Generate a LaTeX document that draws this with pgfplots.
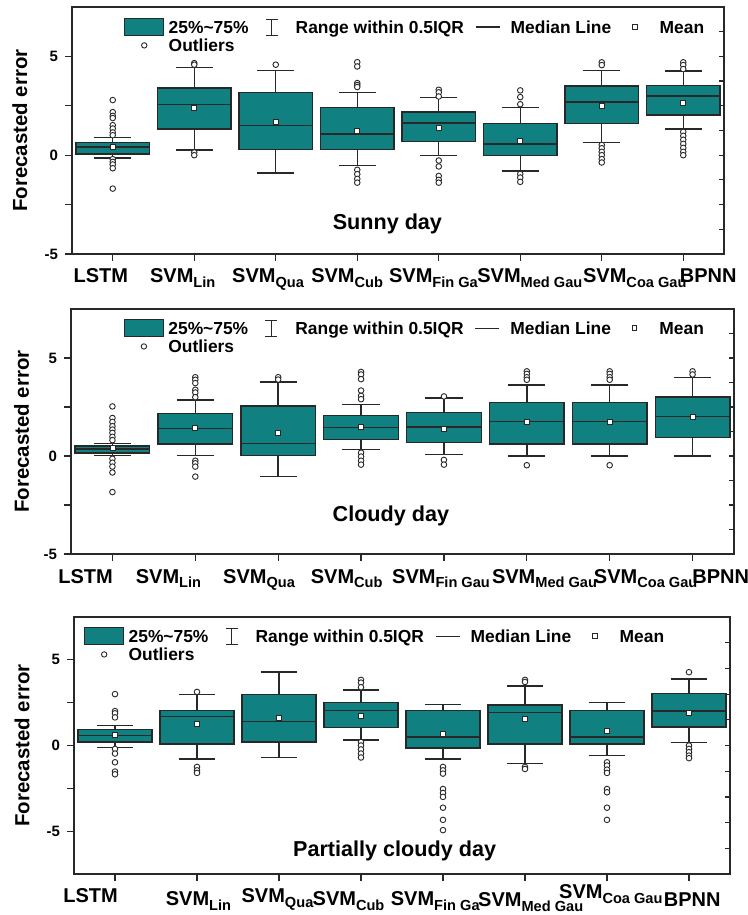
\documentclass[border=0pt]{standalone}
\usepackage{fontspec}
\setmainfont{Liberation Sans}
\usepackage{pgfplots}
\pgfplotsset{compat=1.18}
\usepgfplotslibrary{statistics}

\definecolor{boxfill}{RGB}{16,128,128}
\definecolor{edge}{RGB}{40,40,40}

% subscript for the tick labels
\newcommand\sub[1]{\raisebox{-0.22em}{\fontsize{7.3bp}{8bp}\selectfont #1}}
% tick label: x position, ymin, drop below axis, text
\newcommand\xl[4]{\node[anchor=base, yshift=-#3bp, font=\bfseries\fontsize{10bp}{12bp}\selectfont] at (axis cs:#1,#2) {#4};}
% one box: position, lower whisker, lower quartile, median, upper quartile, upper whisker, mean, outliers
\newcommand\bp[8]{\addplot[bx, boxplot prepared={draw position=#1, lower whisker=#2, lower quartile=#3, median=#4, upper quartile=#5, upper whisker=#6, average=#7}] table[row sep=\\, y index=0] {y\\ #8};}

\newcommand\legendstuff{%
  \addlegendimage{legend image code/.code={
    \path[draw=none, fill=none] (0bp,-4.5bp) rectangle (22bp,4.5bp);
    \draw[fill=boxfill, draw=edge, line width=0.7bp] (0bp,-4.25bp) rectangle (19.5bp,4.25bp);}}
  \addlegendentry{\makebox[43bp][l]{25\%\textasciitilde75\%}}
  \addlegendimage{legend image code/.code={
    \path[draw=none, fill=none] (0bp,-4.5bp) rectangle (20.5bp,4.5bp);
    \draw[draw=edge, line width=0.6bp] (8.5bp,-4bp) -- (8.5bp,4bp) (5.5bp,-4bp) -- (11.5bp,-4bp) (5.5bp,4bp) -- (11.5bp,4bp);}}
  \addlegendentry{\makebox[85bp][l]{Range within 0.5IQR}}
  \addlegendimage{legend image code/.code={
    \path[draw=none, fill=none] (0bp,-4.5bp) rectangle (22.5bp,4.5bp);
    \draw[draw=edge, line width=0.7bp] (5bp,0bp) -- (17bp,0bp);}}
  \addlegendentry{\makebox[55bp][l]{Median Line}}
  \addlegendimage{legend image code/.code={
    \path[draw=none, fill=none] (0bp,-4.5bp) rectangle (19.5bp,4.5bp);
    \draw[fill=white, draw=edge, line width=0.45bp] (5.8bp,-1.2bp) rectangle (8.2bp,1.2bp);}}
  \addlegendentry{\makebox[22bp][l]{Mean}}
  \addlegendimage{legend image code/.code={
    \path[draw=none, fill=none] (0bp,-4.5bp) rectangle (22bp,4.5bp);
    \draw[fill=white, draw=edge, line width=0.45bp] (9.75bp,0bp) circle (1.35bp);}}
  \addlegendentry{\makebox[43bp][l]{Outliers}}
}

\pgfplotsset{
  panel/.style={
    scale only axis, anchor=north west,
    xmin=0.5, xmax=8.5,
    xtick={1,...,8}, xticklabels={},
    ytick={-5,0,5}, yticklabels={-5,0,5}, minor ytick={-2.5,2.5},
    tick pos=left, tick align=outside,
    major tick length=3.5bp, minor tick length=3.5bp,
    tick style={draw=edge, line width=0.6bp},
    axis line style={draw=edge, line width=0.7bp},
    yticklabel style={font=\bfseries\fontsize{7.5bp}{9bp}\selectfont},
    ylabel={Forecasted error},
    ylabel style={font=\bfseries\fontsize{10.2bp}{12bp}\selectfont, anchor=center},
    clip=false,
    legend columns=4, legend cell align=left,
    legend style={draw=none, fill=none, anchor=north west, inner sep=0pt, outer sep=0pt,
      font=\bfseries\fontsize{8.7bp}{9bp}\selectfont,
      nodes={inner sep=0pt, text height=6.2bp, text depth=0pt}},
    boxplot/draw direction=y,
    boxplot/box extend=0.9, boxplot/whisker extend=0.45,
    boxplot/every box/.style={fill=boxfill, draw=edge, line width=0.7bp},
    boxplot/every whisker/.style={draw=edge, line width=0.7bp},
    boxplot/every median/.style={draw=edge, line width=0.8bp},
    boxplot/every average/.style={/tikz/mark=square*, /tikz/mark size=1.25bp,
      /tikz/line width=0.45bp, /tikz/solid,
      /utils/exec={\pgfsetfillcolor{white}\pgfsetstrokecolor{edge}}},
  },
  bx/.style={mark=*, mark size=1.4bp, mark options={fill=white, draw=edge, line width=0.45bp}},
  rt/.style={scale only axis, anchor=north west, xmin=0.5, xmax=8.5,
    xtick=\empty, ytick pos=right, tick align=inside,
    axis line style={draw=none},
    yticklabels={}, major tick length=2.5bp,
    tick style={draw=edge, line width=0.6bp}},
}

\begin{document}
\begin{tikzpicture}
\useasboundingbox (0bp,0bp) rectangle (374bp,-457.5bp);

% ---------------- Sunny day ----------------
\begin{axis}[panel, at={(36bp,-3.5bp)}, width=326bp, height=123.5bp,
  ymin=-5, ymax=7.5,
  ylabel style={at={(axis description cs:-0.08,0.5)}},
  legend style={at={(0.0798,0.9555)}}]
\legendstuff
\bp{1}{-0.15}{0.07}{0.42}{0.64}{0.90}{0.42}{2.79\\ 2.18\\ 1.99\\ 1.88\\ 1.52\\ 1.35\\ 1.15\\ 1.01\\ -0.20\\ -0.34\\ -0.47\\ -0.66\\ -1.69\\}
\bp{2}{0.27}{1.32}{2.57}{3.41}{4.43}{2.40}{4.66\\ 4.58\\ 0.14\\ 0.00\\}
\bp{3}{-0.90}{0.30}{1.50}{3.16}{4.29}{1.67}{4.58\\}
\bp{4}{-0.51}{0.30}{1.08}{2.40}{3.18}{1.23}{4.71\\ 4.49\\ 3.65\\ 3.55\\ 3.45\\ -0.74\\ -0.96\\ -1.20\\ -1.39\\}
\bp{5}{-0.02}{0.68}{1.64}{2.18}{2.91}{1.40}{3.31\\ 3.18\\ 2.97\\ -0.27\\ -0.57\\ -1.05\\ -1.25\\ -1.39\\}
\bp{6}{-0.79}{-0.02}{0.56}{1.60}{2.40}{0.71}{3.28\\ 2.94\\ 2.58\\ -0.95\\ -1.13\\ -1.35\\}
\bp{7}{0.64}{1.59}{2.69}{3.50}{4.29}{2.50}{4.70\\ 4.56\\ 0.52\\ 0.35\\ 0.17\\ 0.00\\ -0.20\\ -0.37\\}
\bp{8}{1.32}{2.03}{3.00}{3.53}{4.27}{2.67}{4.70\\ 4.56\\ 4.36\\ 1.18\\ 0.98\\ 0.78\\ 0.57\\ 0.37\\ 0.17\\ 0.00\\}
\node[font=\bfseries\fontsize{10.8bp}{13bp}\selectfont] at (axis cs:4.37,-3.48) {Sunny day};
\xl{0.853}{-5}{14.5}{LSTM}
\xl{1.859}{-5}{14.5}{SVM\sub{Lin}}
\xl{2.906}{-5}{14.5}{SVM\sub{Qua}}
\xl{3.876}{-5}{14.5}{SVM\sub{Cub}}
\xl{4.935}{-5}{14.5}{SVM\sub{Fin Ga}}
\xl{6.118}{-5}{14.5}{SVM\sub{Med Gau}}
\xl{7.406}{-5}{14.5}{SVM\sub{Coa Gau}}
\xl{8.306}{-5}{14.5}{BPNN}
\end{axis}
\begin{axis}[rt, at={(36bp,-3.5bp)}, width=326bp, height=123.5bp,
  ymin=-5, ymax=7.5, ytick={-3.75,-2.5,...,6.25}]
\end{axis}

% ---------------- Cloudy day ----------------
\begin{axis}[panel, at={(35.5bp,-154.5bp)}, width=331.5bp, height=122.5bp,
  ymin=-5, ymax=7.5,
  ylabel style={at={(axis description cs:-0.0745,0.5)}},
  legend style={at={(0.0795,0.959)}}]
\legendstuff
\bp{1}{0.03}{0.15}{0.35}{0.52}{0.64}{0.41}{2.53\\ 1.94\\ 1.74\\ 1.52\\ 1.35\\ 1.18\\ 0.98\\ 0.81\\ -0.14\\ -0.34\\ -0.54\\ -0.84\\ -1.84\\}
\bp{2}{0.02}{0.61}{1.40}{2.16}{2.85}{1.45}{4.02\\ 3.89\\ 3.72\\ 3.38\\ 3.24\\ 3.00\\ -0.24\\ -0.37\\ -0.54\\ -1.05\\}
\bp{3}{-1.05}{0.02}{0.63}{2.55}{3.77}{1.20}{4.02\\ 3.90\\}
\bp{4}{0.34}{0.84}{1.45}{2.06}{2.64}{1.49}{4.29\\ 4.16\\ 3.92\\ 3.34\\ 3.07\\ 2.90\\ 0.17\\ -0.03\\ -0.24\\ -0.44\\}
\bp{5}{0.07}{0.68}{1.47}{2.21}{2.96}{1.40}{3.04\\ -0.20\\ -0.44\\}
\bp{6}{0.00}{0.61}{1.76}{2.72}{3.63}{1.76}{4.32\\ 4.19\\ 4.02\\ 3.89\\ -0.47\\}
\bp{7}{0.00}{0.61}{1.76}{2.72}{3.63}{1.76}{4.32\\ 4.19\\ 4.02\\ 3.89\\ -0.47\\}
\bp{8}{0.00}{0.93}{2.01}{3.02}{4.00}{2.01}{4.32\\ 4.16\\}
\node[font=\bfseries\fontsize{10.8bp}{13bp}\selectfont] at (axis cs:4.36,-3.04) {Cloudy day};
\xl{0.676}{-5}{14.5}{LSTM}
\xl{1.676}{-5}{14.5}{SVM\sub{Lin}}
\xl{2.769}{-5}{14.5}{SVM\sub{Qua}}
\xl{3.827}{-5}{14.5}{SVM\sub{Cub}}
\xl{4.965}{-5}{14.5}{SVM\sub{Fin Gau}}
\xl{6.214}{-5}{14.5}{SVM\sub{Med Gau}}
\xl{7.434}{-5}{14.5}{SVM\sub{Coa Gau}}
\xl{8.34}{-5}{14.5}{BPNN}
\end{axis}
\begin{axis}[rt, at={(35.5bp,-154.5bp)}, width=331.5bp, height=122.5bp,
  ymin=-5, ymax=7.5, ytick={-3.75,-2.5,...,6.25}]
\end{axis}

% ---------------- Partially cloudy day ----------------
\begin{axis}[panel, at={(37bp,-308.5bp)}, width=328bp, height=128.5bp,
  ymin=-7.5, ymax=7.5,
  ylabel style={at={(axis description cs:-0.079,0.5)}},
  legend style={at={(0.0152,0.961)}}]
\legendstuff
\bp{1}{-0.10}{0.20}{0.59}{0.94}{1.17}{0.59}{3.00\\ 2.01\\ 1.88\\ 1.64\\ -0.20\\ -0.47\\ -0.98\\ -1.52\\ -1.68\\}
\bp{2}{-0.78}{0.08}{1.70}{2.05}{2.97}{1.25}{3.13\\ -1.25\\ -1.45\\ -1.60\\}
\addplot[bx, boxplot prepared={draw position=3, lower whisker=-0.70, lower quartile=0.21, median=1.39, upper quartile=2.97, upper whisker=4.30, average=1.62}] coordinates {};
\bp{4}{0.31}{1.04}{2.05}{2.52}{3.24}{1.74}{3.83\\ 3.67\\ 3.40\\ 0.20\\ 0.00\\ -0.23\\ -0.47\\ -0.70\\}
\bp{5}{-0.78}{-0.14}{0.51}{2.05}{2.38}{0.70}{-1.25\\ -1.45\\ -1.64\\ -2.54\\ -2.77\\ -3.00\\ -3.63\\ -4.34\\ -4.94\\}
\bp{6}{-1.04}{0.08}{1.93}{2.36}{3.48}{1.54}{3.83\\ 3.71\\ -1.25\\ -1.37\\}
\bp{7}{-0.57}{0.08}{0.51}{2.05}{2.52}{0.84}{-0.98\\ -1.17\\ -1.41\\ -1.60\\ -2.54\\ -2.73\\ -3.63\\ -4.34\\}
\bp{8}{0.18}{1.09}{2.03}{3.03}{3.89}{1.93}{4.28\\ 0.00\\ -0.20\\ -0.39\\ -0.59\\ -0.74\\}
\node[font=\bfseries\fontsize{10.8bp}{13bp}\selectfont] at (axis cs:4.41,-6.17) {Partially cloudy day};
\xl{0.702}{-7.5}{14.5}{LSTM}
\xl{2.018}{-7.5}{16}{SVM\sub{Lin}}
\xl{2.982}{-7.5}{14.5}{SVM\sub{Qua}}
\xl{3.848}{-7.5}{16}{SVM\sub{Cub}}
\xl{4.906}{-7.5}{16}{SVM\sub{Fin Ga}}
\xl{6.07}{-7.5}{16.5}{SVM\sub{Med Gau}}
\xl{7.047}{-7.5}{12.5}{SVM\sub{Coa Gau}}
\xl{8.04}{-7.5}{16.5}{BPNN}
\end{axis}
\begin{axis}[rt, at={(37bp,-308.5bp)}, width=328bp, height=128.5bp,
  ymin=-7.5, ymax=7.5, ytick={-6,-4.5,...,6}]
\end{axis}
\end{tikzpicture}
\end{document}
